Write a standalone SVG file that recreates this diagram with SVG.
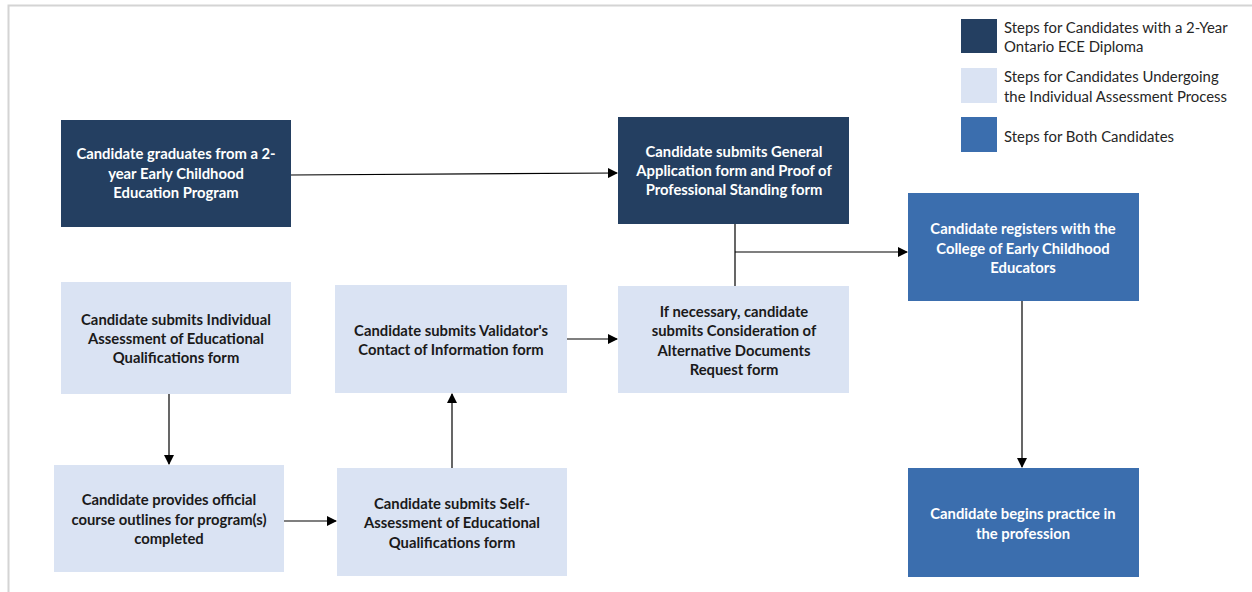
<svg xmlns="http://www.w3.org/2000/svg" width="1252" height="592" viewBox="0 0 1252 592">
<defs>
<marker id="arr" markerWidth="10" markerHeight="10" refX="9" refY="5" orient="auto" markerUnits="userSpaceOnUse">
<path d="M0,0 L10,5 L0,10 Z" fill="#000"/>
</marker>
<style>
.dark{fill:#243f61}
.light{fill:#dae3f3}
.mid{fill:#3b6eae}
.t{font-family:Lato,"Liberation Sans",sans-serif;font-weight:bold;font-size:14.8px;text-anchor:middle}
.tw{fill:#ffffff}
.tb{fill:#1a1a1a}
.lg{font-family:Lato,"Liberation Sans",sans-serif;font-size:14.9px;fill:#262626}
.c{stroke:#000;stroke-width:1.2;fill:none}
</style>
</defs>
<rect x="0" y="0" width="1252" height="592" fill="#fff"/>
<path d="M8.5,592 V5.5 H1252" stroke="#d4d4d4" stroke-width="2" fill="none"/>

<g id="legend">
<rect class="dark" x="961" y="19" width="36" height="34"/>
<text class="lg" x="1004" y="33">Steps for Candidates with a 2-Year</text>
<text class="lg" x="1004" y="52">Ontario ECE Diploma</text>
<rect class="light" x="961" y="68" width="36" height="35"/>
<text class="lg" x="1004" y="82">Steps for Candidates Undergoing</text>
<text class="lg" x="1004" y="102">the Individual Assessment Process</text>
<rect class="mid" x="961" y="117" width="36" height="35"/>
<text class="lg" x="1004" y="142">Steps for Both Candidates</text>
</g>

<g id="connectors">
<line class="c" x1="291" y1="175" x2="617" y2="173" marker-end="url(#arr)"/>
<line class="c" x1="735" y1="224" x2="735" y2="286"/>
<line class="c" x1="735" y1="252" x2="907" y2="252" marker-end="url(#arr)"/>
<line class="c" x1="1022" y1="301" x2="1022" y2="467" marker-end="url(#arr)"/>
<line class="c" x1="169" y1="394" x2="169" y2="464" marker-end="url(#arr)"/>
<line class="c" x1="284" y1="521" x2="336" y2="521" marker-end="url(#arr)"/>
<line class="c" x1="452" y1="468" x2="452" y2="394" marker-end="url(#arr)"/>
<line class="c" x1="567" y1="339" x2="617" y2="339" marker-end="url(#arr)"/>
</g>

<g id="node-graduates">
<rect class="dark" x="61" y="120" width="230" height="107"/>
<text class="t tw" x="176" y="159">Candidate graduates from a 2-</text>
<text class="t tw" x="176" y="179">year Early Childhood</text>
<text class="t tw" x="176" y="198">Education Program</text>
</g>

<g id="node-general">
<rect class="dark" x="618" y="117" width="231" height="107"/>
<text class="t tw" x="734" y="157">Candidate submits General</text>
<text class="t tw" x="734" y="176">Application form and Proof of</text>
<text class="t tw" x="734" y="195">Professional Standing form</text>
</g>

<g id="node-registers">
<rect class="mid" x="908" y="193" width="231" height="108"/>
<text class="t tw" x="1023" y="234">Candidate registers with the</text>
<text class="t tw" x="1023" y="254">College of Early Childhood</text>
<text class="t tw" x="1023" y="273">Educators</text>
</g>

<g id="node-practice">
<rect class="mid" x="908" y="468" width="231" height="109"/>
<text class="t tw" x="1023" y="519">Candidate begins practice in</text>
<text class="t tw" x="1023" y="539">the profession</text>
</g>

<g id="node-individual">
<rect class="light" x="61" y="282" width="230" height="112"/>
<text class="t tb" x="176" y="325">Candidate submits Individual</text>
<text class="t tb" x="176" y="344">Assessment of Educational</text>
<text class="t tb" x="176" y="363">Qualifications form</text>
</g>

<g id="node-validator">
<rect class="light" x="335" y="285" width="232" height="108"/>
<text class="t tb" x="451" y="336">Candidate submits Validator's</text>
<text class="t tb" x="451" y="355">Contact of Information form</text>
</g>

<g id="node-alternative">
<rect class="light" x="618" y="286" width="231" height="107"/>
<text class="t tb" x="734" y="317">If necessary, candidate</text>
<text class="t tb" x="734" y="336">submits Consideration of</text>
<text class="t tb" x="734" y="356">Alternative Documents</text>
<text class="t tb" x="734" y="375">Request form</text>
</g>

<g id="node-outlines">
<rect class="light" x="54" y="465" width="230" height="107"/>
<text class="t tb" x="169" y="505">Candidate provides official</text>
<text class="t tb" x="169" y="525">course outlines for program(s)</text>
<text class="t tb" x="169" y="544">completed</text>
</g>

<g id="node-self">
<rect class="light" x="337" y="468" width="230" height="108"/>
<text class="t tb" x="452" y="509">Candidate submits Self-</text>
<text class="t tb" x="452" y="528">Assessment of Educational</text>
<text class="t tb" x="452" y="548">Qualifications form</text>
</g>
</svg>
